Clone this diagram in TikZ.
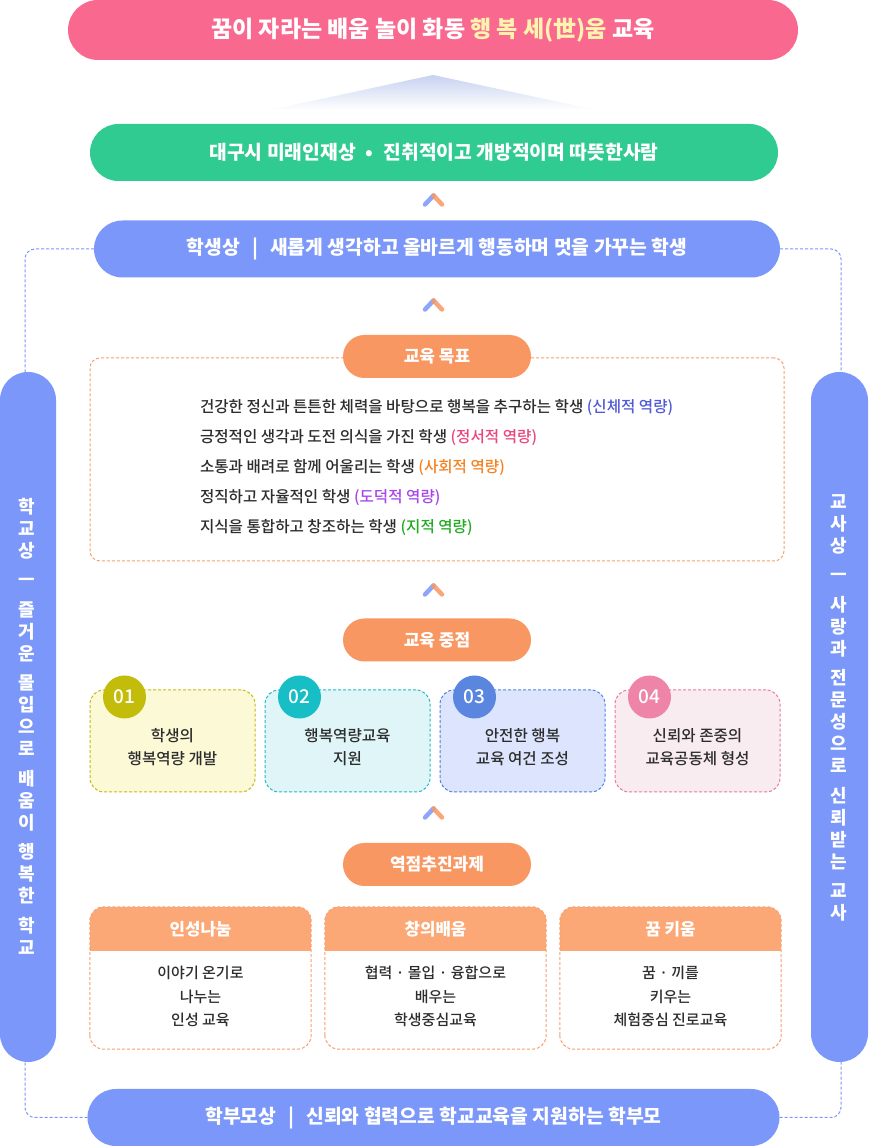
\documentclass[tikz,border=0pt]{standalone}
\usepackage{fontspec}
\setmainfont{Noto Sans CJK KR}
\IfFontExistsTF{Noto Sans CJK KR Medium}
  {\newfontfamily\midfont{Noto Sans CJK KR Medium}}
  {\newcommand\midfont{\normalfont}}
\usetikzlibrary{positioning}
\begin{document}
\begin{tikzpicture}[x=1pt,y=1pt,
  pill/.style={rectangle, draw=none, inner sep=0pt, outer sep=0pt, text=white, font=\bfseries\fontsize{19.3}{23}\selectfont},
  tag/.style={rectangle, fill=tagColor, draw=none, rounded corners=21.5, minimum width=188, minimum height=43, inner sep=0pt, outer sep=0pt, text=white, font=\bfseries\fontsize{17}{20}\selectfont},
  sideline/.style={draw=blueColor, line width=1, dash pattern=on 3pt off 2pt, rounded corners=10},
  sidetext/.style={align=center, text=white, inner sep=0pt, font=\bfseries\fontsize{18}{22}\selectfont},
  bodytext/.style={text=textColor, inner sep=0pt, outer sep=0pt, font=\midfont\fontsize{15.6}{23}\selectfont},
  numdot/.style={circle, minimum size=43, inner sep=0pt, text=white, font=\midfont\fontsize{19}{20}\selectfont},
  focusbox/.style={rectangle, rounded corners=14, minimum width=165, minimum height=102, line width=1, dash pattern=on 3pt off 2pt, inner sep=0pt},
  taskcard/.style={rectangle, rounded corners=14, minimum width=221, minimum height=142, fill=white, inner sep=0pt},
  carddash/.style={draw=cardLine, line width=1, dash pattern=on 3pt off 2pt, rounded corners=14},
  upmark/.style={line width=4.5, line cap=round, opacity=0.85}]
\definecolor{titleColor}{RGB}{249,104,142}
\definecolor{hopeColor}{RGB}{255,243,176}
\definecolor{fadeColor}{RGB}{198,210,240}
\definecolor{greenColor}{RGB}{47,203,144}
\definecolor{blueColor}{RGB}{123,151,249}
\definecolor{tagColor}{RGB}{249,151,99}
\definecolor{headColor}{RGB}{251,168,118}
\definecolor{cardLine}{RGB}{247,160,110}
\definecolor{textColor}{RGB}{45,45,45}
\definecolor{bodyCap}{RGB}{79,91,213}
\definecolor{mindCap}{RGB}{232,70,124}
\definecolor{socialCap}{RGB}{245,130,31}
\definecolor{moralCap}{RGB}{166,70,232}
\definecolor{wisdomCap}{RGB}{34,170,34}
\definecolor{fillOne}{RGB}{252,249,215}
\definecolor{lineOne}{RGB}{196,186,20}
\definecolor{dotOne}{RGB}{196,188,10}
\definecolor{fillTwo}{RGB}{223,245,247}
\definecolor{lineTwo}{RGB}{30,188,198}
\definecolor{dotTwo}{RGB}{23,190,198}
\definecolor{fillThree}{RGB}{220,229,253}
\definecolor{lineThree}{RGB}{80,128,232}
\definecolor{dotThree}{RGB}{90,134,224}
\definecolor{fillFour}{RGB}{249,236,241}
\definecolor{lineFour}{RGB}{236,118,160}
\definecolor{dotFour}{RGB}{238,132,168}
\path[use as bounding box,fill=white] (0,0) rectangle (868,1146);

% top vision
\node[pill, fill=titleColor, minimum width=730, minimum height=60, rounded corners=30, font=\bfseries\fontsize{23}{27}\selectfont] (title) at (433,1116) {꿈이 자라는 배움 놀이 화동 \textcolor{hopeColor}{행 복 세(世)움} 교육};
\shade[top color=fadeColor, bottom color=white] (433,1071) -- (596,1036) -- (270,1036) -- cycle;
\node[pill, fill=greenColor, minimum width=688, minimum height=57, rounded corners=28.5] (vision) at (434,993.5) {대구시 미래인재상\hspace{10pt}•\hspace{10pt}진취적이고 개방적이며 따뜻한사람};

% student, school, teacher, parent
\node[pill, fill=blueColor, minimum width=686, minimum height=57, rounded corners=28.5] (student) at (437,897) {학생상\hspace{12pt}|\hspace{12pt}새롭게 생각하고 올바르게 행동하며 멋을 가꾸는 학생};
\node[pill, fill=blueColor, minimum width=692, minimum height=57, rounded corners=28.5] (parent) at (433.5,28.5) {학부모상\hspace{12pt}|\hspace{12pt}신뢰와 협력으로 학교교육을 지원하는 학부모};
\node[pill, fill=blueColor, minimum width=56, minimum height=690, rounded corners=28] (school) at (28,429) {};
\node[pill, fill=blueColor, minimum width=57, minimum height=690, rounded corners=28.5] (teacher) at (839.5,429) {};
\node[sidetext] (schoollabel) at (27,420) {학\\교\\상\\[7.5pt]ㅡ\\[7.5pt]즐\\거\\운\\[7.5pt]몰\\입\\으\\로\\[7.5pt]배\\움\\이\\[7.5pt]행\\복\\한\\[7.5pt]학\\교};
\node[sidetext] (teacherlabel) at (839,438) {교\\사\\상\\[7.5pt]ㅡ\\[7.5pt]사\\랑\\과\\[7.5pt]전\\문\\성\\으\\로\\[7.5pt]신\\뢰\\받\\는\\[7.5pt]교\\사};
\draw[sideline] (student.west) -| ([xshift=-3pt]school.north);
\draw[sideline] (student.east) -| ([xshift=1.5pt]teacher.north);
\draw[sideline] (parent.west) -| ([xshift=-3pt]school.south);
\draw[sideline] (parent.east) -| ([xshift=1.5pt]teacher.south);

% up marks
\draw[upmark, draw=blueColor] (425,941.5) -- (433.5,950.5);
\draw[upmark, draw=tagColor] (433.5,950.5) -- (442,941.5);
\draw[upmark, draw=blueColor] (425,836.5) -- (433.5,845.5);
\draw[upmark, draw=tagColor] (433.5,845.5) -- (442,836.5);
\draw[upmark, draw=blueColor] (425,551.5) -- (433.5,560.5);
\draw[upmark, draw=tagColor] (433.5,560.5) -- (442,551.5);
\draw[upmark, draw=blueColor] (425,328.5) -- (433.5,337.5);
\draw[upmark, draw=tagColor] (433.5,337.5) -- (442,328.5);

% goals
\node[rectangle, draw=cardLine, line width=1, dash pattern=on 3pt off 2pt, rounded corners=10, minimum width=694, minimum height=203, inner sep=0pt] (goalbox) at (437,686.5) {};
\node[tag] (goaltag) at (437,789.5) {교육 목표};
\node[bodytext, anchor=west] (goal1) at (200,738) {건강한 정신과 튼튼한 체력을 바탕으로 행복을 추구하는 학생 \textcolor{bodyCap}{(신체적 역량)}};
\node[bodytext, anchor=west] (goal2) at (200,708) {긍정적인 생각과 도전 의식을 가진 학생 \textcolor{mindCap}{(정서적 역량)}};
\node[bodytext, anchor=west] (goal3) at (200,678) {소통과 배려로 함께 어울리는 학생 \textcolor{socialCap}{(사회적 역량)}};
\node[bodytext, anchor=west] (goal4) at (200,648) {정직하고 자율적인 학생 \textcolor{moralCap}{(도덕적 역량)}};
\node[bodytext, anchor=west] (goal5) at (200,618) {지식을 통합하고 창조하는 학생 \textcolor{wisdomCap}{(지적 역량)}};

% focus
\node[tag] (focustag) at (437,506) {교육 중점};
\node[focusbox, fill=fillOne, draw=lineOne] (focus1) at (172.5,405) {};
\node[focusbox, fill=fillTwo, draw=lineTwo] (focus2) at (347.5,405) {};
\node[focusbox, fill=fillThree, draw=lineThree] (focus3) at (522.5,405) {};
\node[focusbox, fill=fillFour, draw=lineFour] (focus4) at (697.5,405) {};
\node[numdot, fill=dotOne] (num1) at (124.5,449) {01};
\node[numdot, fill=dotTwo] (num2) at (299.5,449) {02};
\node[numdot, fill=dotThree] (num3) at (474.5,449) {03};
\node[numdot, fill=dotFour] (num4) at (649.5,449) {04};
\node[bodytext, align=center] (focustext1) at (172.5,398.5) {학생의\\행복역량 개발};
\node[bodytext, align=center] (focustext2) at (347.5,398.5) {행복역량교육\\지원};
\node[bodytext, align=center] (focustext3) at (522.5,398.5) {안전한 행복\\교육 여건 조성};
\node[bodytext, align=center] (focustext4) at (697.5,398.5) {신뢰와 존중의\\교육공동체 형성};

% tasks
\node[tag] (tasktag) at (437,281.5) {역점추진과제};
\node[taskcard] (task1) at (200.5,168) {};
\node[taskcard] (task2) at (435.5,168) {};
\node[taskcard] (task3) at (670.5,168) {};
\begin{scope}
\clip[rounded corners=14] (task1.south west) rectangle (task1.north east);
\fill[headColor] (task1.north west) rectangle ([yshift=-44pt]task1.north east);
\end{scope}
\begin{scope}
\clip[rounded corners=14] (task2.south west) rectangle (task2.north east);
\fill[headColor] (task2.north west) rectangle ([yshift=-44pt]task2.north east);
\end{scope}
\begin{scope}
\clip[rounded corners=14] (task3.south west) rectangle (task3.north east);
\fill[headColor] (task3.north west) rectangle ([yshift=-44pt]task3.north east);
\end{scope}
\draw[carddash] (task1.south west) rectangle (task1.north east);
\draw[carddash] (task2.south west) rectangle (task2.north east);
\draw[carddash] (task3.south west) rectangle (task3.north east);
\node[pill, font=\bfseries\fontsize{16.8}{20}\selectfont] (head1) at ([yshift=-22pt]task1.north) {인성나눔};
\node[pill, font=\bfseries\fontsize{16.8}{20}\selectfont] (head2) at ([yshift=-22pt]task2.north) {창의배움};
\node[pill, font=\bfseries\fontsize{16.8}{20}\selectfont] (head3) at ([yshift=-22pt]task3.north) {꿈 키움};
\node[bodytext, align=center, font=\midfont\fontsize{15}{23.5}\selectfont] (tasktext1) at (200.5,149.5) {이야기 온기로\\나누는\\인성 교육};
\node[bodytext, align=center, font=\midfont\fontsize{15}{23.5}\selectfont] (tasktext2) at (435.5,149.5) {협력 · 몰입 · 융합으로\\배우는\\학생중심교육};
\node[bodytext, align=center, font=\midfont\fontsize{15}{23.5}\selectfont] (tasktext3) at (670.5,149.5) {꿈 · 끼를\\키우는\\체험중심 진로교육};
\end{tikzpicture}
\end{document}
